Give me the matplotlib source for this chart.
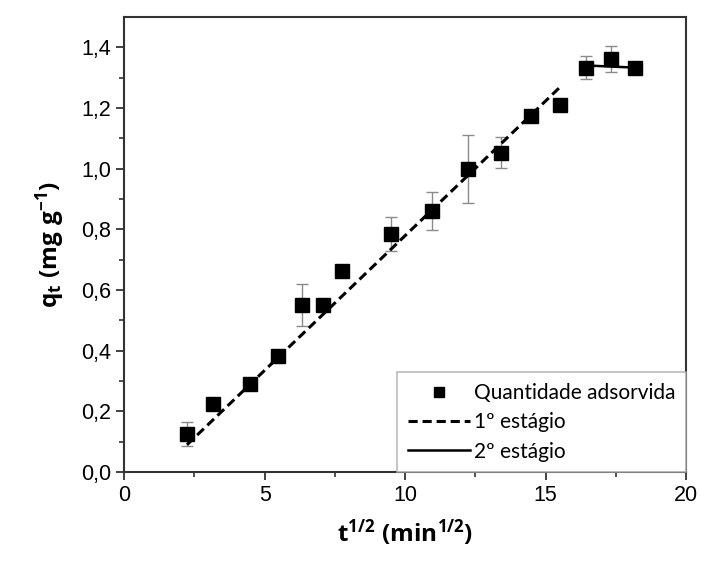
import numpy as np
import matplotlib
matplotlib.use("Agg")
import matplotlib.pyplot as plt

# t^1/2 (min^1/2) and adsorbed amount q_t (mg/g)
t_sqrt = [2.24, 3.16, 4.47, 5.48, 6.32, 7.07, 7.75, 9.49, 10.95, 12.25,
          13.40, 14.49, 15.49, 16.43, 17.32, 18.17]
q_t = [0.125, 0.224, 0.290, 0.383, 0.551, 0.551, 0.663, 0.786, 0.861, 1.000,
       1.053, 1.175, 1.211, 1.333, 1.360, 1.333]
q_err = [0.040, 0.010, 0.008, 0.008, 0.068, 0.006, 0.020, 0.056, 0.063, 0.112,
         0.050, 0.015, 0.015, 0.037, 0.043, 0.006]

# fitted lines (end points)
stage1_x = [2.24, 15.49]
stage1_y = [0.09, 1.267]
stage2_x = [16.43, 18.17]
stage2_y = [1.340, 1.333]

plt.rcParams['font.family'] = ['Liberation Sans', 'DejaVu Sans']
plt.rcParams['mathtext.fontset'] = 'custom'
plt.rcParams['mathtext.rm'] = 'Open Sans'
plt.rcParams['mathtext.bf'] = 'Open Sans:bold'
plt.rcParams['mathtext.it'] = 'Open Sans:italic'

fig = plt.figure(figsize=(7.01, 5.64), dpi=100)
ax = fig.add_axes([0.177, 0.163, 0.802, 0.807])

ax.errorbar(t_sqrt, q_t, yerr=q_err, fmt='none', ecolor='#8a8a8a',
            elinewidth=1.0, capsize=4, capthick=1.0, zorder=2)
pts, = ax.plot(t_sqrt, q_t, 's', color='black', markersize=9.5, zorder=4,
               label='Quantidade adsorvida')
l1, = ax.plot(stage1_x, stage1_y, '--', color='black', linewidth=2.2,
              dashes=(3, 1.6), zorder=3, label='1º estágio')
l2, = ax.plot(stage2_x, stage2_y, '-', color='black', linewidth=1.8,
              zorder=3, label='2º estágio')

ax.set_xlim(0, 20)
ax.set_ylim(0, 1.5)
ax.set_xticks([0, 5, 10, 15, 20])
ax.set_xticks([2.5, 7.5, 12.5, 17.5], minor=True)
ax.set_yticks(np.arange(0, 1.41, 0.2))
ax.set_yticks(np.arange(0.1, 1.5, 0.2), minor=True)
ax.set_yticklabels([('%.1f' % v).replace('.', ',') for v in np.arange(0, 1.41, 0.2)])

ax.tick_params(which='major', direction='out', length=6, width=1.3,
               labelsize=15.5, color='#333333')
ax.tick_params(which='minor', direction='out', length=3.5, width=1.2,
               color='#333333')
for s in ax.spines.values():
    s.set_linewidth(1.5)
    s.set_color('#333333')

ax.set_xlabel(r'$\mathbf{t^{1/2}\ (min^{1/2})}$', fontsize=17.5, labelpad=8)
ax.set_ylabel(r'$\mathbf{q_t\ (mg\ g^{-1})}$', fontsize=17.5, labelpad=10)

leg = ax.legend(handles=[pts, l1, l2], loc='lower right',
                prop={'family': 'Lato', 'size': 15},
                frameon=True, fancybox=False, edgecolor='#aaaaaa',
                borderaxespad=0.0, handlelength=3.0, handletextpad=0.2,
                labelspacing=0.45, borderpad=0.5, markerscale=0.75)
leg.get_frame().set_linewidth(1.2)

fig.savefig('out.png', dpi=100)
